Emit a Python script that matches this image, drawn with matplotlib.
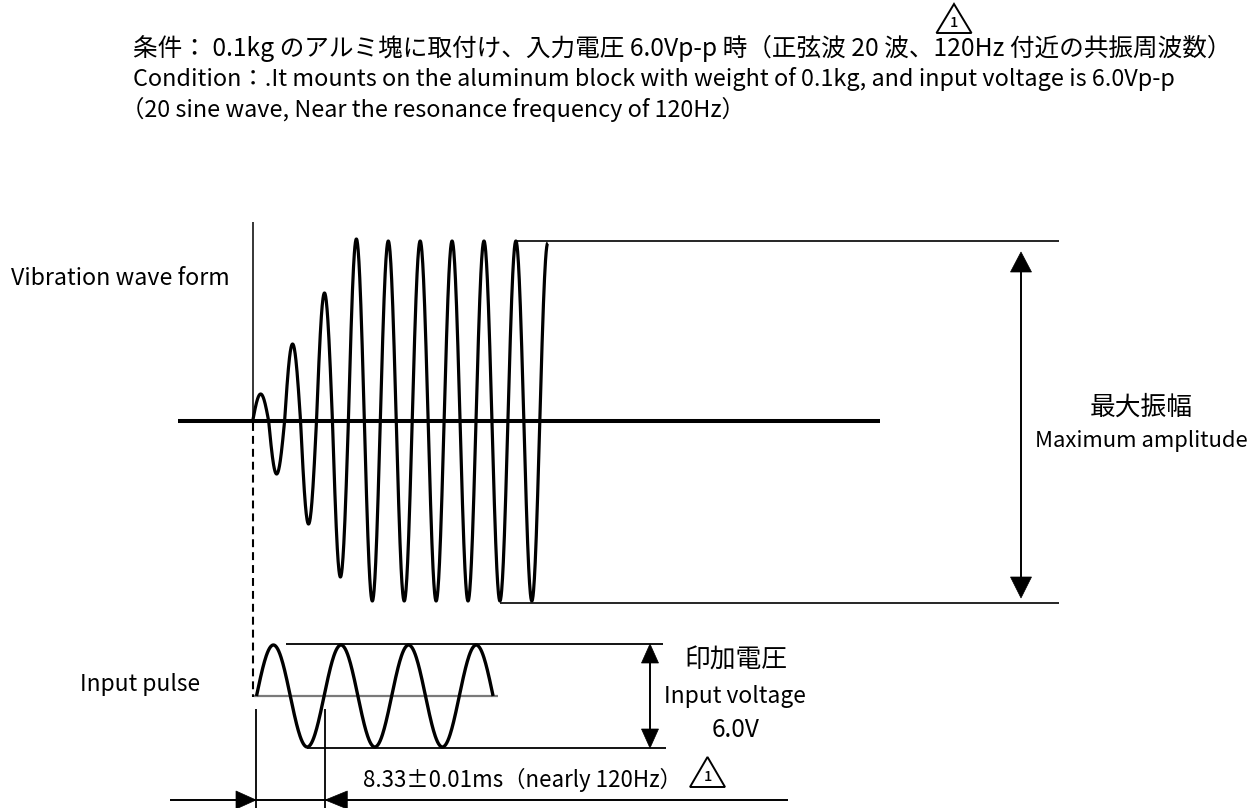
import numpy as np
import matplotlib
matplotlib.use("Agg")
import matplotlib.pyplot as plt
from matplotlib.patches import Polygon

# ---------------- data (schematic values) ----------------
# vibration wave: amplitude of each successive half cycle (up, down, up, ...)
vib_half_amps = [27, 53, 77, 103, 128, 156, 182, 180, 180, 180, 180, 180,
                 180, 180, 180, 180, 180, 180, 178]
vib_last_fraction = 0.5          # last half cycle drawn only up to its peak
vib_half_period = 15.95
vib_start_x = 252.7
vib_base_y = 421.0

# input pulse: 3.5 sine cycles
input_half_amps = [51, 51, 51, 51, 51, 51, 51]
input_half_period = 33.8
input_start_x = 256.5
input_base_y = 696.0

title_jp = "条件： 0.1kg のアルミ塊に取付け、入力電圧 6.0Vp-p 時（正弦波 20 波、120Hz 付近の共振周波数）"
title_en1 = "Condition：.It mounts on the aluminum block with weight of 0.1kg, and input voltage is 6.0Vp-p"
title_en2 = "（20 sine wave, Near the resonance frequency of 120Hz）"
label_vib = "Vibration wave form"
label_pulse = "Input pulse"
label_maxamp_jp = "最大振幅"
label_maxamp_en = "Maximum amplitude"
label_volt_jp = "印加電圧"
label_volt_en = "Input voltage"
label_volt_val = "6.0V"
label_period = "8.33±0.01ms（nearly 120Hz）"
rev_mark = "1"

# ---------------- figure ----------------
W, H = 1252, 808
fig = plt.figure(figsize=(W / 100, H / 100), dpi=100, facecolor="white")
ax = fig.add_axes([0, 0, 1, 1])
ax.set_xlim(0, W)
ax.set_ylim(H, 0)
ax.axis("off")

JP = ["Noto Sans CJK JP", "DejaVu Sans"]
NARROW = ["Noto Sans CJK JP", "DejaVu Sans"]
SANS = ["Noto Sans CJK JP", "DejaVu Sans"]

renderer = fig.canvas.get_renderer()


def put_text(s, x0, x1, y, fam, ha="left", va="baseline", size=None):
    """Place text; if size is None, scale font so that it spans x0..x1."""
    x = {"left": x0, "center": (x0 + x1) / 2, "right": x1}[ha]
    t = ax.text(x, y, s, fontsize=10 if size is None else size, family=fam,
                ha=ha, va=va, color="black")
    if size is None:
        w = t.get_window_extent(renderer=renderer).width
        t.set_fontsize(10 * (x1 - x0) / w)
    return t


def hline(x0, x1, y, lw=1.2, color="black"):
    ax.plot([x0, x1], [y, y], color=color, lw=lw, solid_capstyle="butt")


def vline(x, y0, y1, lw=1.2, color="black", **kw):
    ax.plot([x, x], [y0, y1], color=color, lw=lw, solid_capstyle="butt", **kw)


def head(tip_x, tip_y, direction, length, width):
    dx, dy = {"up": (0, 1), "down": (0, -1), "left": (1, 0), "right": (-1, 0)}[direction]
    bx, by = tip_x + dx * length, tip_y + dy * length
    px, py = -dy * width / 2, dx * width / 2
    ax.add_patch(Polygon([(tip_x, tip_y), (bx + px, by + py), (bx - px, by - py)],
                         closed=True, facecolor="black", edgecolor="black", lw=0.5))


def wave(amps, half_period, x_start, base, last_fraction=1.0, lw=2.2):
    xs, ys = [], []
    for k, a in enumerate(amps):
        frac = last_fraction if k == len(amps) - 1 else 1.0
        sgn = 1 if k % 2 == 0 else -1
        u = np.linspace(0, frac, 60)
        xs.append(x_start + (k + u) * half_period)
        ys.append(base - sgn * a * np.sin(np.pi * u))
    ax.plot(np.concatenate(xs), np.concatenate(ys), color="black", lw=lw,
            solid_joinstyle="round", solid_capstyle="butt")


def rev_triangle(cx, y_top, y_bot, w):
    ax.add_patch(Polygon([(cx, y_top), (cx - w / 2, y_bot), (cx + w / 2, y_bot)],
                         closed=True, facecolor="none", edgecolor="black", lw=1.4))
    ax.text(cx, y_bot - (y_bot - y_top) * 0.1, rev_mark, ha="center", va="bottom",
            fontsize=10.5, family=NARROW, fontweight="medium")


# ---------------- title ----------------
put_text(title_jp, 133, 1233, 56, JP)
t2 = put_text(title_en1, 133, 1174, 86, NARROW)
put_text(title_en2, 121, 0, 117, NARROW, size=t2.get_fontsize())
rev_triangle(954, 4, 33, 35)

# ---------------- vibration waveform ----------------
vline(vib_start_x, 222, vib_base_y, lw=1.1)
hline(178, 880, vib_base_y, lw=2.9)
vib_peak_x = vib_start_x + vib_half_period * 16.5
vib_trough_x = vib_start_x + vib_half_period * 15.5
hline(vib_peak_x, 1059, vib_base_y - max(vib_half_amps[6:]) + 2, lw=1.2)
hline(vib_trough_x, 1059, vib_base_y + max(vib_half_amps[6:]), lw=1.2)
wave(vib_half_amps, vib_half_period, vib_start_x, vib_base_y, vib_last_fraction, lw=2.3)

# maximum amplitude arrow
top_y = vib_base_y - 180
bot_y = vib_base_y + 180
vline(1021, top_y + 15, bot_y - 10, lw=1.4)
head(1021, top_y + 11, "up", 20, 21)
head(1021, bot_y - 3, "down", 21, 21)

put_text(label_vib, 11, 230, 285, SANS)
put_text(label_maxamp_jp, 1090, 1193, 415, JP)
put_text(label_maxamp_en, 1035, 1248, 447, SANS)

# dashed sync line
ax.plot([vib_start_x, vib_start_x], [vib_base_y + 2, input_base_y + 1], color="black",
        lw=1.5, dashes=(3.8, 2.4))

# ---------------- input pulse ----------------
hline(254, 498, input_base_y, lw=1.6, color="#7a7a7a")
wave(input_half_amps, input_half_period, input_start_x, input_base_y, 1.0, lw=2.4)
in_top = input_base_y - input_half_amps[0] - 1
in_bot = input_base_y + input_half_amps[1] + 1
hline(286, 663, in_top, lw=1.3)
hline(306.7, 666, in_bot, lw=1.3)
vline(650, in_top + 15, in_bot - 15, lw=1.4)
head(650, in_top, "up", 19, 17)
head(650, in_bot, "down", 19, 17)

put_text(label_pulse, 80, 200, 691.5, SANS)
put_text(label_volt_jp, 684, 787, 668, JP)
put_text(label_volt_en, 664, 806, 703.3, NARROW)
put_text(label_volt_val, 712, 760, 737.3, NARROW)

# ---------------- period dimension ----------------
p0 = 256.0
p1 = p0 + 2 * input_half_period * 1.025
vline(p0, 709, 808, lw=1.3)
vline(p1, 709, 808, lw=1.3)
hline(170, 788, 800, lw=1.4)
head(p0, 800, "right", 20, 18)
head(p1, 800, "left", 22, 18)
put_text(label_period, 363, 682, 786.7, NARROW)
rev_triangle(707.5, 757, 787, 35)

fig.savefig("out.png", dpi=100, facecolor="white")
